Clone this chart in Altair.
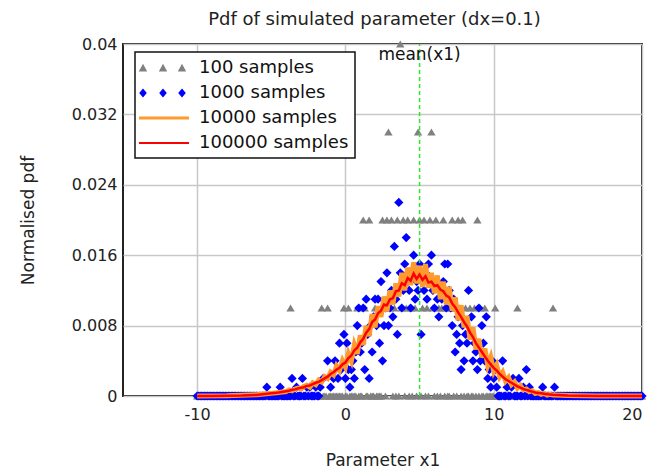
import altair as alt
import numpy as np
import pandas as pd

# ---------------- data ----------------
BIN_START, BIN_STOP = -10.0, 20.0   # histogram range, dx = 0.1
MEAN_X = 5.0

# 100 samples: bins with non-zero normalised pdf
GRAY_X_001 = [-3.7, -1.6, -1.2, -0.1, 0.2, 0.8, 1.3, 2.0, 2.6, 3.0, 3.3, 3.8, 4.1, 4.4, 4.7,
              5.2, 5.5, 5.9, 6.3, 6.5, 6.8, 7.1, 7.4, 7.7, 8.1, 8.4, 8.7, 9.1, 9.4, 10.1, 11.6, 14.0]
GRAY_X_002 = [1.2, 1.6, 2.5, 2.8, 3.1, 3.5, 3.9, 4.2, 4.6, 5.0, 5.3, 5.7, 6.1, 6.6, 7.2, 7.6, 7.9, 8.9]
GRAY_X_003 = [2.9, 4.9, 5.8]
GRAY_X_004 = [3.7]

# 1000 samples: non-zero bins (pdf in units of 0.001)
BLUE_X = [-5.3, -4.4, -3.6, -3.3, -2.9, -2.6, -2.4, -2.0, -1.7, -1.5, -1.2, -1.0, -0.8, -0.7, -0.5,
          -0.4, -0.3, -0.1, 0.0, 0.1, 0.2, 0.3, 0.4, 0.5, 0.6, 0.7, 0.8, 0.9, 1.0, 1.1, 1.2, 1.3,
          1.4, 1.5, 1.6, 1.7, 1.8, 1.9, 2.0, 2.1, 2.2, 2.3, 2.4, 2.5, 2.6, 2.7, 2.8, 2.9, 3.0, 3.1,
          3.2, 3.3, 3.4, 3.5, 3.6, 3.7, 3.8, 3.9, 4.0, 4.1, 4.2, 4.3, 4.4, 4.5, 4.6, 4.7, 4.8, 4.9,
          5.0, 5.1, 5.2, 5.3, 5.4, 5.5, 5.6, 5.7, 5.8, 5.9, 6.0, 6.1, 6.2, 6.3, 6.4, 6.5, 6.6, 6.7,
          6.8, 6.9, 7.0, 7.1, 7.2, 7.3, 7.4, 7.5, 7.6, 7.7, 7.8, 7.9, 8.0, 8.1, 8.2, 8.3, 8.4, 8.5,
          8.6, 8.7, 8.8, 8.9, 9.0, 9.1, 9.2, 9.3, 9.4, 9.5, 9.6, 9.7, 9.8, 9.9, 10.0, 10.1, 10.2,
          10.6, 10.9, 11.2, 11.3, 11.7, 12.0, 12.2, 12.4, 13.3, 14.1]
BLUE_K = [1, 1, 2, 1, 2, 1, 1, 1, 1, 2, 4, 1, 2, 4, 2,
          6, 3, 7, 2, 6, 3, 1, 3, 4, 2, 5, 8, 10, 5, 6, 10, 3,
          11, 7, 2, 8, 5, 9, 11, 8, 11, 6, 13, 4, 8, 10, 14, 8, 10, 12,
          9, 17, 11, 7, 22, 14, 10, 12, 15, 18, 13, 12, 10, 14, 16, 11, 13, 12,
          15, 7, 13, 12, 14, 11, 15, 13, 16, 12, 10, 13, 11, 9, 12, 11, 13, 15,
          10, 15, 12, 10, 8, 11, 5, 7, 9, 6, 3, 8, 4, 7, 6, 12, 7, 9,
          4, 6, 5, 3, 10, 4, 8, 6, 4, 9, 2, 3, 1, 4, 2, 3, 1,
          4, 1, 1, 2, 2, 1, 3, 1, 1, 1]
# ranges where the 1000-sample pdf is zero
BLUE_ZERO_RANGES = [(-10.0, -1.8), (10.3, 20.0)]

# 10000 samples (pdf in units of 0.001)
ORANGE_X = [-10, -8, -6, -5, -4.5,
            -4.0, -3.8, -3.6, -3.4, -3.2, -3.0, -2.8, -2.6, -2.4, -2.2, -2.0, -1.8, -1.6, -1.4,
            -1.2, -1.0, -0.8, -0.6, -0.4, -0.2, 0.0, 0.2, 0.4, 0.6, 0.8, 1.0, 1.2, 1.4, 1.6, 1.8,
            2.0, 2.2, 2.4, 2.6, 2.8, 3.0, 3.2, 3.4, 3.6, 3.8, 4.0, 4.2, 4.4, 4.6, 4.8, 5.0, 5.2,
            5.4, 5.6, 5.8, 6.0, 6.2, 6.4, 6.6, 6.8, 7.0, 7.2, 7.4, 7.6, 7.8, 8.0, 8.2, 8.4, 8.6,
            8.8, 9.0, 9.2, 9.4, 9.6, 9.8, 10.0, 10.2, 10.4, 10.6, 10.8, 11.0, 11.2, 11.4, 11.6,
            11.8, 12.0, 12.2, 12.4, 12.6, 12.8, 13.0, 13.2, 13.4, 13.6, 13.8, 14.0,
            15, 17, 20]
ORANGE_PDF = [0, 0.02, 0.15, 0.3, 0.4,
              0.5, 0.7, 0.6, 0.8, 0.9, 0.8, 1.1, 1.2, 1.0, 1.5, 1.3, 1.8, 1.6, 2.2,
              2.0, 2.7, 2.4, 3.4, 2.9, 4.0, 3.3, 4.8, 4.0, 5.8, 4.8, 6.9, 5.8, 8.0, 6.8, 9.3,
              7.8, 10.2, 9.0, 11.3, 9.6, 12.0, 10.4, 12.8, 11.3, 14.0, 12.0, 14.6, 12.6, 15.2, 12.8, 14.8, 12.4,
              15.0, 12.3, 14.0, 11.7, 13.7, 11.0, 13.0, 10.4, 12.4, 9.7, 11.2, 8.6, 10.3, 7.8, 9.1, 6.4, 7.8,
              5.3, 6.5, 4.4, 5.4, 3.5, 4.4, 2.8, 3.5, 2.2, 2.7, 1.7, 2.1, 1.3, 1.6, 0.9,
              1.2, 0.7, 0.8, 0.5, 0.6, 0.3, 0.4, 0.2, 0.3, 0.1, 0.2, 0.1,
              0.05, 0, 0]

# 100000 samples (pdf in units of 0.001)
RED_X = [-10, -9, -8, -7, -6, -5, -4.5,
         -4.0, -3.8, -3.6, -3.4, -3.2, -3.0, -2.8, -2.6, -2.4, -2.2, -2.0, -1.8, -1.6, -1.4,
         -1.2, -1.0, -0.8, -0.6, -0.4, -0.2, 0.0, 0.2, 0.4, 0.6, 0.8, 1.0, 1.2, 1.4, 1.6, 1.8,
         2.0, 2.2, 2.4, 2.6, 2.8, 3.0, 3.2, 3.4, 3.6, 3.8, 4.0, 4.2, 4.4, 4.6, 4.8, 5.0, 5.2,
         5.4, 5.6, 5.8, 6.0, 6.2, 6.4, 6.6, 6.8, 7.0, 7.2, 7.4, 7.6, 7.8, 8.0, 8.2, 8.4, 8.6,
         8.8, 9.0, 9.2, 9.4, 9.6, 9.8, 10.0, 10.2, 10.4, 10.6, 10.8, 11.0, 11.2, 11.4, 11.6,
         11.8, 12.0, 12.2, 12.4, 12.6, 12.8, 13.0, 13.2, 13.4, 13.6, 13.8, 14.0,
         15, 16, 17, 18, 20]
RED_PDF = [0, 0.01, 0.02, 0.05, 0.12, 0.3, 0.4,
           0.55, 0.6, 0.7, 0.75, 0.85, 0.95, 1.0, 1.15, 1.2, 1.35, 1.5, 1.6, 1.8, 2.0,
           2.2, 2.5, 2.7, 3.0, 3.2, 3.6, 3.8, 4.3, 4.6, 5.2, 5.5, 6.1, 6.5, 7.2, 7.6, 8.4,
           8.7, 9.4, 9.7, 10.4, 10.3, 11.0, 11.1, 11.9, 12.0, 12.8, 12.6, 13.4, 13.1, 13.9, 13.3, 13.8, 13.2,
           13.6, 12.9, 13.0, 12.5, 12.6, 12.1, 11.9, 11.4, 11.2, 10.5, 10.1, 9.5, 9.0, 8.4, 7.9, 7.2, 6.7,
           6.0, 5.5, 5.0, 4.5, 4.0, 3.6, 3.2, 2.9, 2.5, 2.2, 1.9, 1.7, 1.5, 1.3, 1.1,
           0.95, 0.8, 0.7, 0.6, 0.5, 0.4, 0.35, 0.3, 0.25, 0.2, 0.18, 0.15,
           0.06, 0.02, 0.01, 0, 0]

Y_TICKS = [0, 0.008, 0.016, 0.024, 0.032, 0.04]
X_TICKS = [-10, 0, 10, 20]
SERIES = ["100 samples", "1000 samples", "10000 samples", "100000 samples"]
COLORS = ["#808080", "#0000ff", "#ff9a2e", "#ff0000"]

# ---------------- tables ----------------
bins = np.round(np.arange(int(BIN_START * 10), int(BIN_STOP * 10) + 1) / 10.0, 1)

gray_vals = {}
for lvl, xs in [(0.01, GRAY_X_001), (0.02, GRAY_X_002), (0.03, GRAY_X_003), (0.04, GRAY_X_004)]:
    for xv in xs:
        gray_vals[round(xv, 1)] = lvl
gray_df = pd.DataFrame({"x": bins, "pdf": [gray_vals.get(round(b, 1), 0.0) for b in bins]})

blue_nz = {round(xv, 1): k / 1000 for xv, k in zip(BLUE_X, BLUE_K)}
blue_rows = [{"x": xv, "pdf": v} for xv, v in blue_nz.items()]
for b in bins:
    b = round(b, 1)
    if b in blue_nz:
        continue
    if any(lo <= b <= hi for lo, hi in BLUE_ZERO_RANGES):
        blue_rows.append({"x": b, "pdf": 0.0})
blue_df = pd.DataFrame(blue_rows)

orange_df = pd.DataFrame({"x": ORANGE_X, "pdf": [v / 1000 for v in ORANGE_PDF]})
red_df = pd.DataFrame({"x": RED_X, "pdf": [v / 1000 for v in RED_PDF]})
mean_df = pd.DataFrame({"x": [MEAN_X], "y0": [0.0], "y1": [0.04], "label": ["mean(x1)"]})
legend_df = pd.DataFrame({"series": SERIES})

# ---------------- legend symbols (custom paths) ----------------
def tri(cx):
    return f"M{cx-0.42},0.34L{cx+0.42},0.34L{cx},-0.42Z"

def dia(cx):
    return f"M{cx},-0.45L{cx+0.38},0L{cx},0.45L{cx-0.38},0Z"

centers = [-0.8, 1.2, 3.1]
sym_tri = "".join(tri(c) for c in centers)
sym_dia = "".join(dia(c) for c in centers)
sym_orange = "M-1.2,-0.16L3.8,-0.16L3.8,0.16L-1.2,0.16Z"
sym_red = "M-1.2,-0.11L3.8,-0.11L3.8,0.11L-1.2,0.11Z"

FONT = "DejaVu Sans"
TXT = "#222"

xscale = alt.Scale(domain=[-15, 20], nice=False, zero=False)
yscale = alt.Scale(domain=[0, 0.04], nice=False, zero=True)

xenc = alt.X("x:Q", scale=xscale,
             axis=alt.Axis(values=X_TICKS, title="Parameter x1", grid=True, ticks=False, domain=False,
                           labelExpr="datum.value + ''",
                           labelFontSize=16, labelPadding=10, titleFontSize=17, titlePadding=30,
                           titleFontWeight="normal", labelColor=TXT, titleColor=TXT,
                           gridColor="#c8c8c8", gridWidth=1.5, labelFont=FONT, titleFont=FONT))
yenc = alt.Y("pdf:Q", scale=yscale,
             axis=alt.Axis(values=Y_TICKS, title="Normalised pdf", grid=True, ticks=False, domain=False,
                           labelExpr="format(datum.value, '~g')",
                           labelFontSize=16, labelPadding=6, titleFontSize=17, titlePadding=34,
                           titleFontWeight="normal", labelColor=TXT, titleColor=TXT,
                           gridColor="#c8c8c8", gridWidth=1.5, labelFont=FONT, titleFont=FONT))

gray = alt.Chart(gray_df).mark_point(shape="triangle-up", filled=True, color="#808080",
                                     size=70, opacity=1).encode(x=xenc, y=yenc)
blue = alt.Chart(blue_df).mark_point(shape="diamond", filled=True, color="#0000ff",
                                     size=85, opacity=1).encode(x="x:Q", y="pdf:Q")
mean_rule = alt.Chart(mean_df).mark_rule(color="#2ee62e", strokeDash=[4, 3], strokeWidth=1.5).encode(
    x="x:Q", y=alt.Y("y0:Q"), y2="y1:Q")
orange = alt.Chart(orange_df).mark_line(color="#ff9a2e", strokeWidth=5).encode(x="x:Q", y="pdf:Q")
red = alt.Chart(red_df).mark_line(color="#ff0000", strokeWidth=2.5).encode(x="x:Q", y="pdf:Q")
mean_text = alt.Chart(mean_df).mark_text(baseline="top", align="center", dy=3, fontSize=17,
                                         font=FONT, color="#111").encode(
    x="x:Q", y=alt.Y("y1:Q"), text="label:N")

legend_layer = alt.Chart(legend_df).mark_point(filled=True, size=400, opacity=1, clip=True).encode(
    x=alt.value(-2000), y=alt.value(-2000),
    color=alt.Color("series:N", scale=alt.Scale(domain=SERIES, range=COLORS),
                    legend=alt.Legend(title=None, orient="none", legendX=12, legendY=8,
                                      fillColor="white", strokeColor="#111", padding=6,
                                      labelFontSize=18, labelFont=FONT, labelColor="#111",
                                      symbolSize=400, labelOffset=38, rowPadding=6,
                                      symbolStrokeWidth=0, labelLimit=300)),
    shape=alt.Shape("series:N", scale=alt.Scale(domain=SERIES,
                                                range=[sym_tri, sym_dia, sym_orange, sym_red]),
                    legend=alt.Legend(title=None, orient="none", legendX=12, legendY=8)),
)

chart = alt.layer(gray, blue, mean_rule, orange, red, mean_text, legend_layer).properties(
    width=519, height=352,
    title=alt.Title("Pdf of simulated parameter (dx=0.1)", fontSize=18, fontWeight="normal",
                    font=FONT, color=TXT, offset=7, dx=-8),
    autosize=alt.AutoSizeParams(type="none"),
    padding={"left": 123, "top": 44, "right": 28, "bottom": 76},
).configure_view(stroke="#222", strokeWidth=2).configure_legend(strokeWidth=1.5)

chart.save("out.html", embed_options={"renderer": "svg", "actions": False})
